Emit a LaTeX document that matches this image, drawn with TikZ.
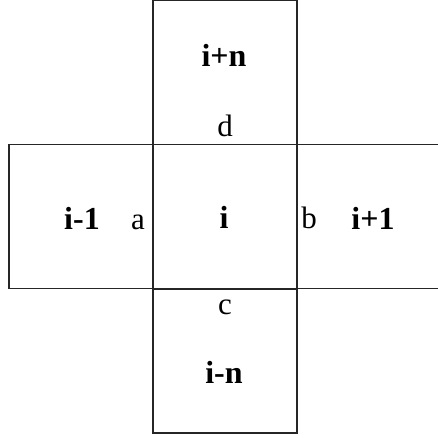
\documentclass[tikz,border=0pt]{standalone}
\usepackage{fontspec}
\setmainfont{Liberation Serif}
\begin{document}
\begin{tikzpicture}[x=1pt,y=-1pt,
  cell/.style={draw=black!85,line width=1.4pt,minimum size=144pt,inner sep=0pt,outer sep=0pt},
  idx/.style={font=\fontsize{32}{34}\selectfont\bfseries,anchor=base,inner sep=0pt},
  side/.style={font=\fontsize{31}{33}\selectfont,anchor=base,inner sep=0pt}]
\useasboundingbox (0,0) rectangle (437,438);
\node[cell] (center) at (225,216.5) {};
\node[cell] (top) at (225,72.5) {};
\node[cell] (bottom) at (225,361) {};
\node[cell] (left) at (81,216.5) {};
\node[cell] (right) at (369,216.5) {};
\node[idx] (tn) at (224,67) {i+n};
\node[side] (d) at (225,137) {d};
\node[idx] (ln) at (82,229) {i-1};
\node[side] (a) at (138,229) {a};
\node[idx] (cn) at (224,228) {i};
\node[side] (b) at (309,228) {b};
\node[idx] (rn) at (373,229) {i+1};
\node[side] (c) at (225,314) {c};
\node[idx] (bn) at (224,383) {i-n};
\end{tikzpicture}
\end{document}
